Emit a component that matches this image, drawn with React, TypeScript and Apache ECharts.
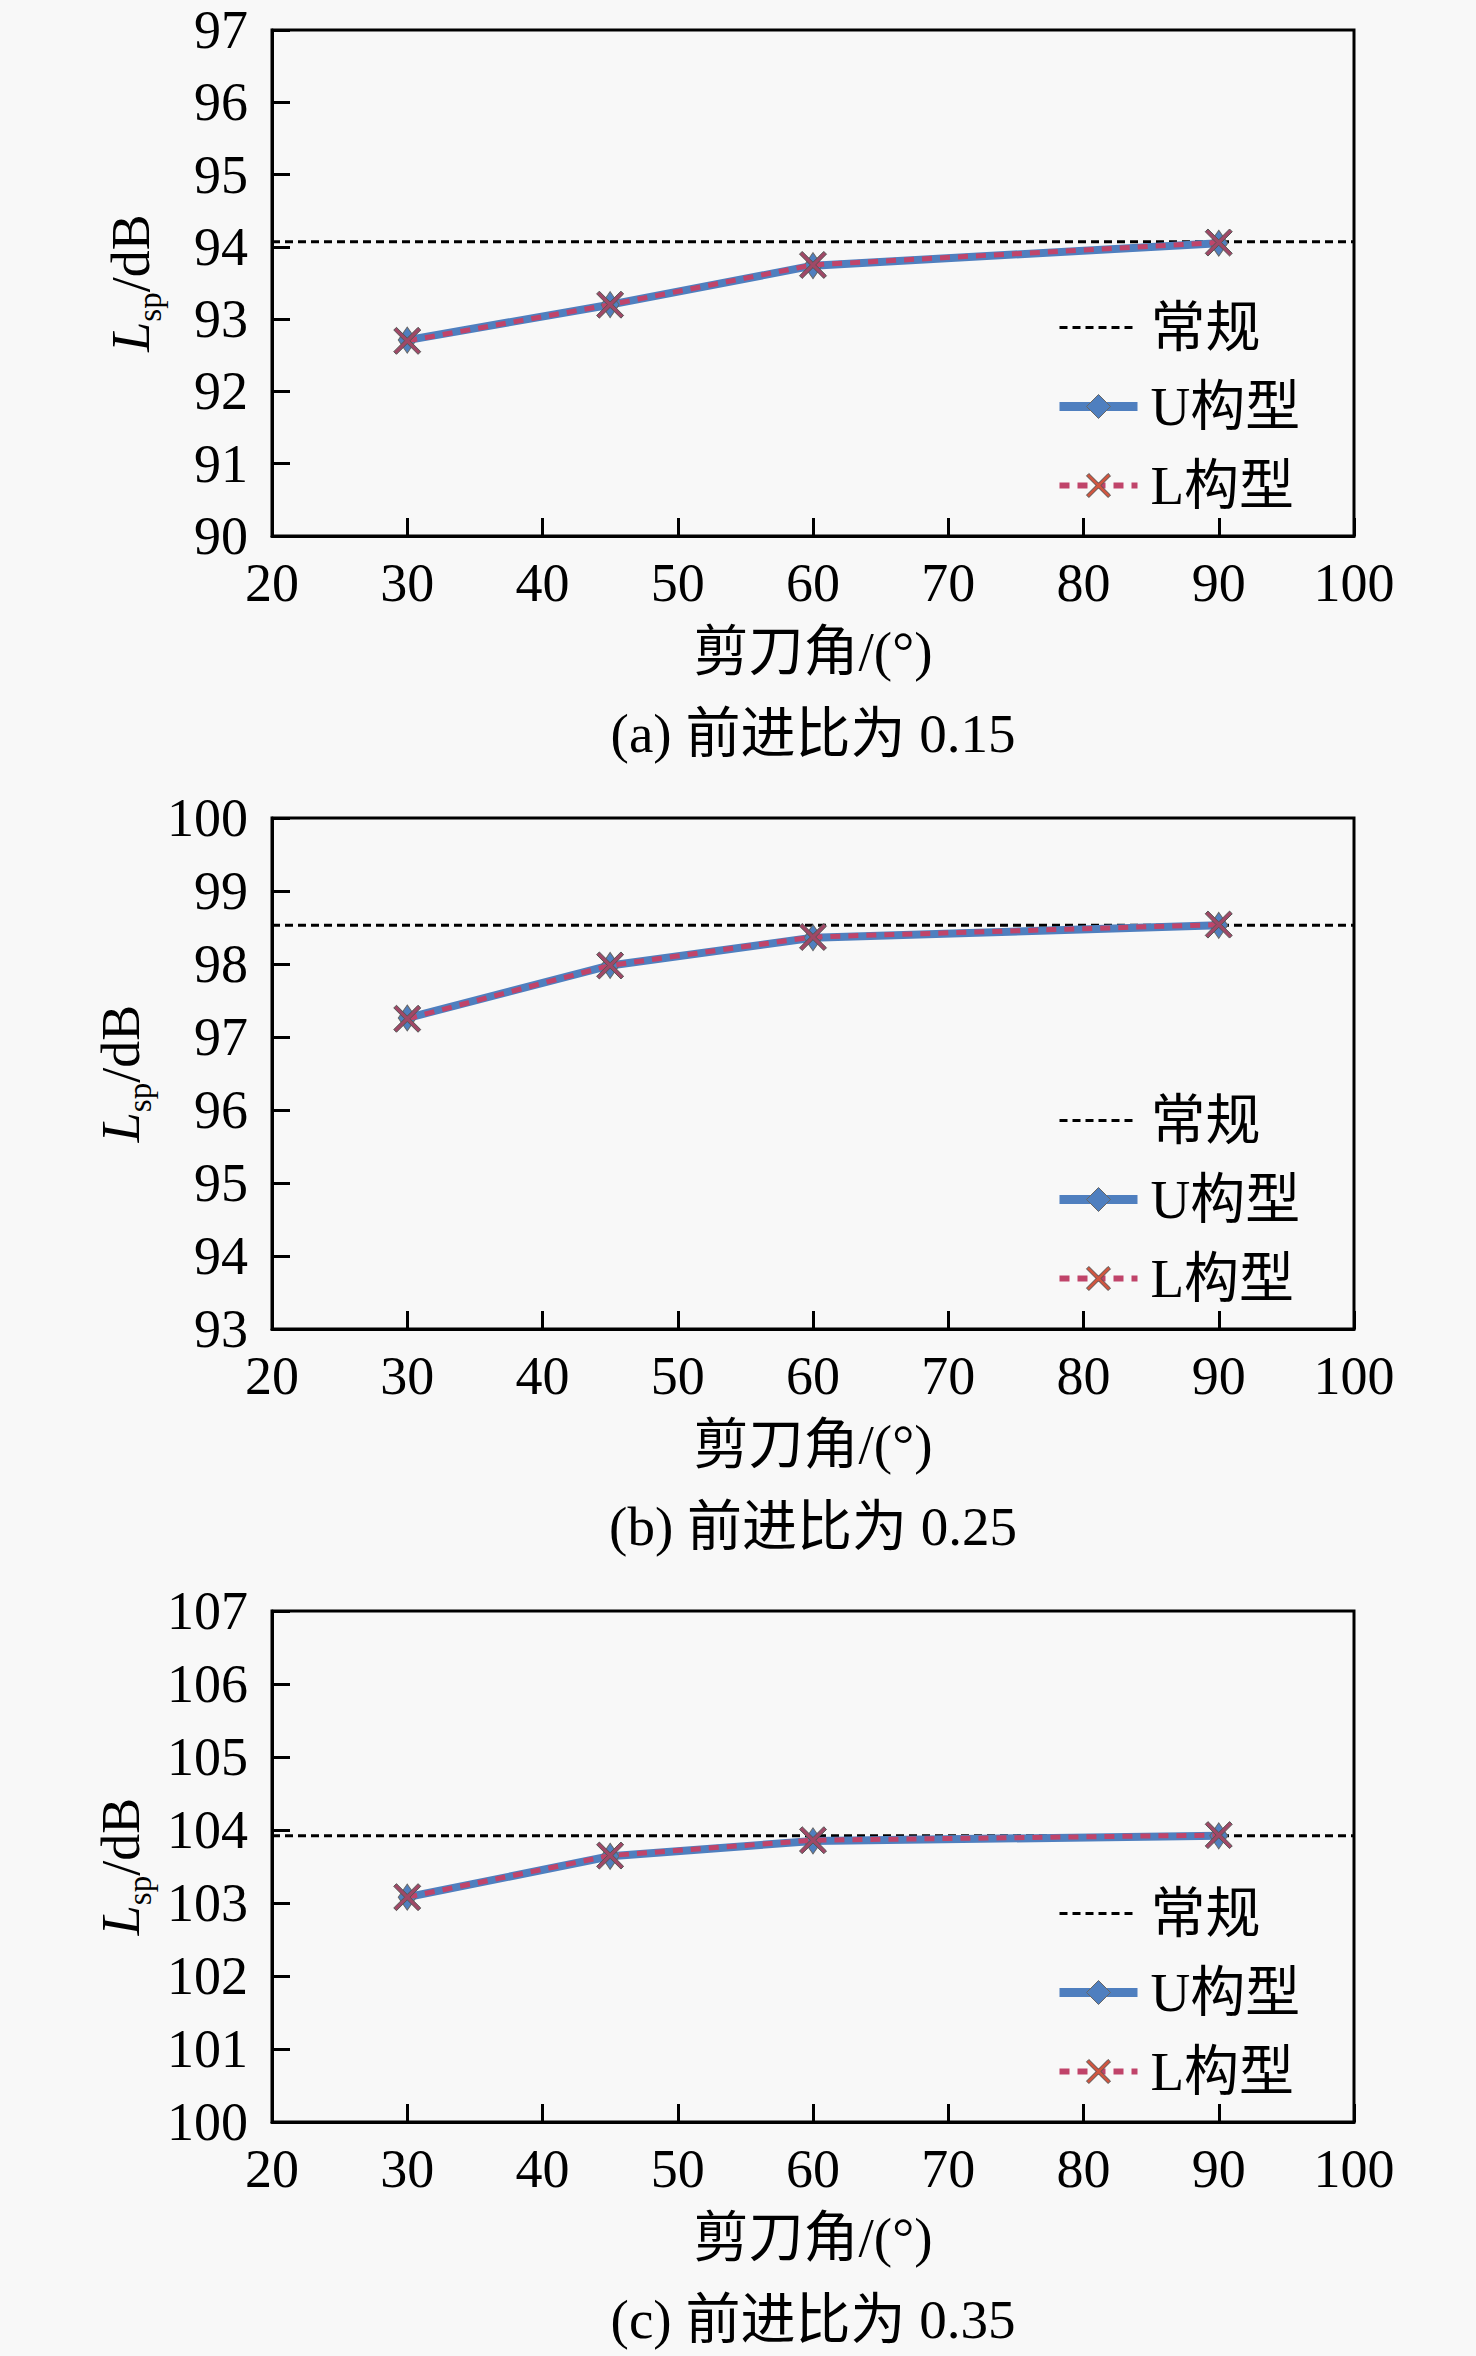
import React, { useEffect, useRef } from "react";
import * as echarts from "echarts";

const xValues = [30, 45, 60, 90];
const xRange = [20, 100];

const uA = [92.71, 93.2, 93.74, 94.05];
const lA = [92.7, 93.2, 93.75, 94.06];
const baseA = 94.07;
const yRangeA = [90, 97];

const uB = [97.26, 97.98, 98.36, 98.53];
const lB = [97.25, 97.98, 98.37, 98.54];
const baseB = 98.53;
const yRangeB = [93, 100];

const uC = [103.08, 103.64, 103.85, 103.92];
const lC = [103.08, 103.65, 103.86, 103.93];
const baseC = 103.92;
const yRangeC = [100, 107];

const captions = ["(a) 前进比为 0.15", "(b) 前进比为 0.25", "(c) 前进比为 0.35"];
const seriesNames = ["常规", "U构型", "L构型"];
const xTitle = "剪刀角/(°)";

const FONT = '"Liberation Serif", "Times New Roman", "Noto Sans CJK SC", serif';
const X_SYMBOL =
  "path://M1,0 L5,4 L9,0 L10,1 L6,5 L10,9 L9,10 L5,6 L1,10 L0,9 L4,5 L0,1 Z";

const GRID_TOPS = [30, 818, 1611];
const GRID_HS = [506, 511, 511];
const GRID_LEFT = 272;
const GRID_RIGHT = 122;

const BLUE = "#4f7fbf";
const PINK = "#c0446a";

export default function App() {
  const ref = useRef<HTMLDivElement>(null);

  useEffect(() => {
    if (!ref.current) return;
    const chart = echarts.init(ref.current, undefined, { renderer: "svg" });

    const panels = [
      { u: uA, l: lA, base: baseA, yr: yRangeA },
      { u: uB, l: lB, base: baseB, yr: yRangeB },
      { u: uC, l: lC, base: baseC, yr: yRangeC },
    ];

    const grids: any[] = [];
    const xAxes: any[] = [];
    const yAxes: any[] = [];
    const series: any[] = [];
    const legends: any[] = [];
    const graphics: any[] = [];

    panels.forEach((p, i) => {
      const bottom = GRID_TOPS[i] + GRID_HS[i];
      grids.push({
        left: GRID_LEFT,
        right: GRID_RIGHT,
        top: GRID_TOPS[i],
        height: GRID_HS[i],
        show: true,
        borderColor: "#000",
        borderWidth: 3,
        backgroundColor: "transparent",
      });
      xAxes.push({
        gridIndex: i,
        type: "value",
        min: xRange[0],
        max: xRange[1],
        interval: 10,
        name: xTitle,
        nameLocation: "middle",
        nameGap: 88,
        nameTextStyle: { fontFamily: FONT, fontSize: 55, color: "#000" },
        axisLine: { show: true, lineStyle: { color: "#000", width: 3 } },
        axisTick: { show: true, inside: true, length: 18, lineStyle: { color: "#000", width: 3 } },
        axisLabel: { fontFamily: FONT, fontSize: 54, color: "#000", margin: 20 },
        splitLine: { show: false },
      });
      yAxes.push({
        gridIndex: i,
        type: "value",
        min: p.yr[0],
        max: p.yr[1],
        interval: 1,
        name: "{i|L}{s|sp}{n|/dB}",
        nameLocation: "middle",
        nameGap: 106,
        nameTextStyle: {
          fontFamily: FONT,
          color: "#000",
          rich: {
            i: { fontFamily: FONT, fontSize: 54, fontStyle: "italic", color: "#000", lineHeight: 54 },
            s: { fontFamily: FONT, fontSize: 33, color: "#000", verticalAlign: "bottom", lineHeight: 70 },
            n: { fontFamily: FONT, fontSize: 54, color: "#000", lineHeight: 54 },
          },
        },
        axisLine: { show: true, lineStyle: { color: "#000", width: 3 } },
        axisTick: { show: true, inside: true, length: 18, lineStyle: { color: "#000", width: 3 } },
        axisLabel: { fontFamily: FONT, fontSize: 54, lineHeight: 44, color: "#000", margin: 24 },
        splitLine: { show: false },
      });
      series.push({
        name: seriesNames[0],
        type: "line",
        xAxisIndex: i,
        yAxisIndex: i,
        data: [
          [xRange[0], p.base],
          [xRange[1], p.base],
        ],
        symbol: "none",
        lineStyle: { color: "#000", width: 3, type: [8, 5] },
        itemStyle: { color: "#000" },
        z: 3,
      });
      series.push({
        name: seriesNames[1],
        type: "line",
        xAxisIndex: i,
        yAxisIndex: i,
        data: xValues.map((x, k) => [x, p.u[k]]),
        symbol: "diamond",
        symbolSize: [18, 26],
        lineStyle: { color: BLUE, width: 8 },
        itemStyle: { color: BLUE, borderColor: "#666", borderWidth: 1 },
        z: 4,
      });
      series.push({
        name: seriesNames[2],
        type: "line",
        xAxisIndex: i,
        yAxisIndex: i,
        data: xValues.map((x, k) => [x, p.l[k]]),
        symbol: X_SYMBOL,
        symbolSize: 27,
        lineStyle: { color: PINK, width: 5, type: [10, 8] },
        itemStyle: { color: "#a04866", borderColor: "#555", borderWidth: 1 },
        z: 5,
      });
      legends.push({
        show: true,
        orient: "vertical",
        left: 1050,
        top: bottom - 241,
        itemWidth: 78,
        itemHeight: 30,
        itemGap: 24,
        selectedMode: false,
        data: [
          {
            name: seriesNames[0],
            itemStyle: { opacity: 0 },
            lineStyle: { color: "#000", width: 3, type: [8, 5] },
          },
          {
            name: seriesNames[1],
            itemStyle: { color: BLUE, borderColor: "#666", borderWidth: 1 },
            lineStyle: { color: BLUE, width: 9 },
          },
          {
            name: seriesNames[2],
            itemStyle: { color: "#d0553f", borderColor: "#555", borderWidth: 1 },
            lineStyle: { color: PINK, width: 6, type: [10, 8] },
          },
        ],
        textStyle: { fontFamily: FONT, fontSize: 55, color: "#000", padding: [0, 0, 0, 8] },
      });
      graphics.push({
        type: "text",
        x: GRID_LEFT + (1476 - GRID_LEFT - GRID_RIGHT) / 2,
        y: bottom + 197,
        style: {
          text: captions[i],
          font: `55px ${FONT}`,
          fill: "#000",
          align: "center",
          verticalAlign: "middle",
        },
      });
    });

    chart.setOption({
      animation: false,
      backgroundColor: "#f8f8f8",
      grid: grids,
      xAxis: xAxes,
      yAxis: yAxes,
      series,
      legend: legends,
      graphic: graphics,
    });

    return () => chart.dispose();
  }, []);

  return (
    <div
      ref={ref}
      style={{ position: "absolute", left: 0, top: 0, width: 1476, height: 2356 }}
    />
  );
}
